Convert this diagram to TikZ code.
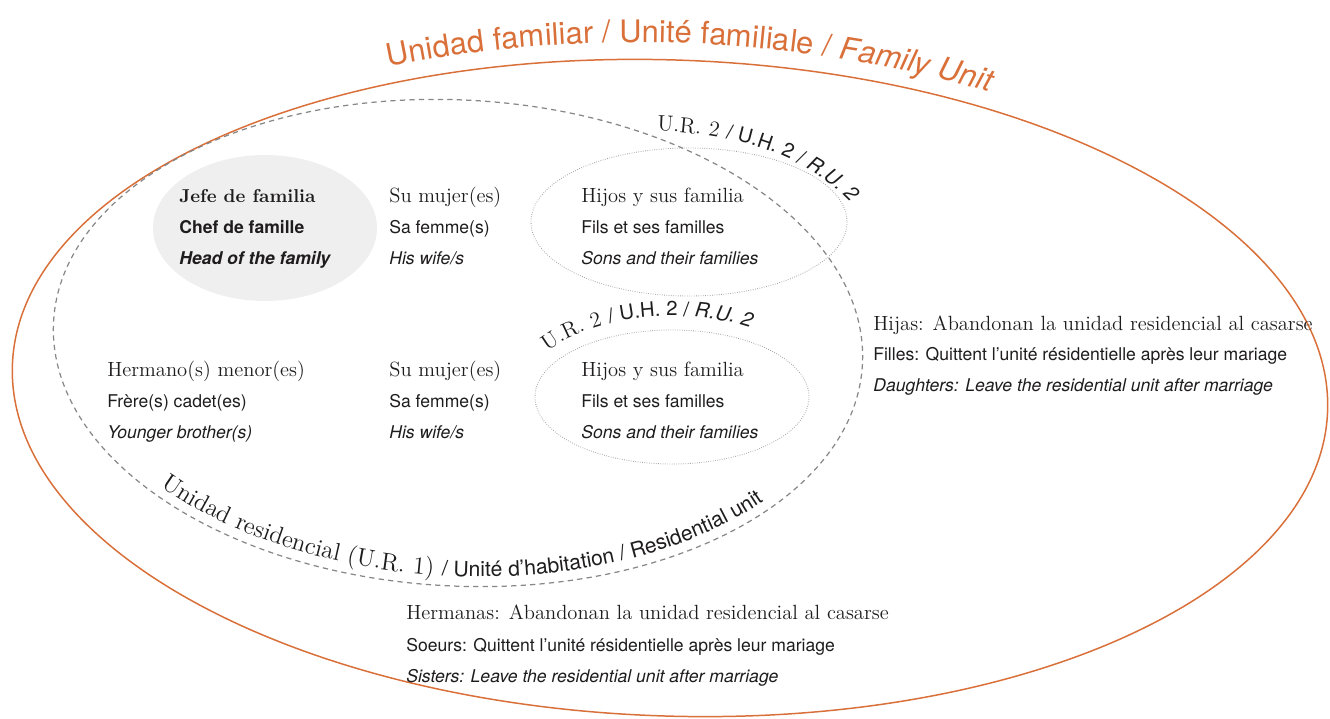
\documentclass[tikz,border=0pt]{standalone}
\usepackage{fontspec}
\setsansfont{TeX Gyre Heros}
\usepackage{xcolor}
\usetikzlibrary{decorations.text}

\definecolor{famorange}{RGB}{217,112,58}
\definecolor{ink}{RGB}{30,28,28}
\definecolor{headfill}{RGB}{239,239,239}
\definecolor{dashgray}{RGB}{135,135,135}
\definecolor{dotgray}{RGB}{160,160,160}

% fonts for the curved labels
\newcommand{\titlefont}{\sffamily\fontsize{17.6}{20}\selectfont}
\newcommand{\titlefontit}{\sffamily\itshape\fontsize{17.6}{20}\selectfont}
\newcommand{\arcES}{\rmfamily\fontsize{12.5}{15}\selectfont}
\newcommand{\arcFR}{\sffamily\fontsize{11.5}{14}\selectfont}
\newcommand{\arcEN}{\sffamily\itshape\fontsize{11.5}{14}\selectfont}
\newcommand{\botES}{\rmfamily\fontsize{14}{16}\selectfont}
\newcommand{\botFR}{\sffamily\fontsize{12}{14}\selectfont}

\begin{document}
\begin{tikzpicture}[x=0.02cm,y=-0.02cm,line join=round,
  lbl/.style={anchor=base west,inner sep=0pt,text=ink},
  es/.style={lbl,font=\rmfamily\fontsize{11.7}{14}\selectfont},
  fr/.style={lbl,font=\sffamily\fontsize{10}{12}\selectfont},
  en/.style={lbl,font=\sffamily\itshape\fontsize{10}{12}\selectfont},
  resline/.style={dashgray,line width=0.7pt,dash pattern=on 3pt off 2.4pt},
  subline/.style={dotgray,line width=0.5pt,dash pattern=on 0.4pt off 0.9pt}]
  \useasboundingbox (0,0) rectangle (1330,719);

  % ---- head of the family (grey blob) -------------------------------------
  \fill[headfill] (265,228) ellipse[x radius=112,y radius=73];

  % ---- family unit (orange) -----------------------------------------------
  \begin{scope}[shift={(670,388)},rotate=-2]
    \draw[famorange,line width=0.85pt] (0,0) ellipse[x radius=658,y radius=328];
    \path[decorate,decoration={text along path,text align=center,text color=famorange,
      text={|\titlefont|Unidad familiar / Unité familiale / |\titlefontit|Family Unit}}]
      (217:676 and 345) arc[start angle=217,end angle=325,x radius=676,y radius=345];
  \end{scope}

  % ---- residential unit (dashed) ------------------------------------------
  \begin{scope}[shift={(458,343)},rotate=-3]
    \draw[resline] (0,0) ellipse[x radius=405,y radius=243];
    % label inside, bottom
    \path[decorate,decoration={text along path,text align=center,text color=ink,
      text={|\botES|Unidad residencial (U.R. 1) |\botFR|/ Unité d’habitation / Residential unit}}]
      (150:395 and 233) arc[start angle=150,end angle=24,x radius=395,y radius=233];
  \end{scope}
  % label outside, upper right
  \path[decorate,decoration={text along path,text align=left,text color=ink,
    text={|\arcES|U.R. 2 |\arcFR|/ U.H. 2 / |\arcEN|R.U. 2}}]
    (657,131) .. controls (750,134) and (832,162) .. (878,238);

  % ---- sub-units of the sons (dotted) -------------------------------------
  \draw[subline] (689,222) ellipse[x radius=158,y radius=74];
  \begin{scope}[shift={(672,397)}]
    \draw[subline] (0,0) ellipse[x radius=137,y radius=67];
    \path[decorate,decoration={text along path,text align=center,text color=ink,
      text={|\arcES|U.R. 2 |\arcFR|/ U.H. 2 / |\arcEN|R.U. 2}}]
      (184:151 and 81) arc[start angle=184,end angle=324,x radius=151,y radius=81];
  \end{scope}

  % ---- first row: head, wives, sons ---------------------------------------
  \node[es,font=\rmfamily\bfseries\fontsize{10.6}{13}\selectfont] (jefe) at (179,203) {Jefe de familia};
  \node[fr,font=\sffamily\bfseries\fontsize{10}{12}\selectfont] (chef) at (179,234) {Chef de famille};
  \node[en,font=\sffamily\bfseries\itshape\fontsize{10}{12}\selectfont] (head) at (179,265) {Head of the family};

  \node[es] (mujer1) at (389,203) {Su mujer(es)};
  \node[fr] (femme1) at (389,234) {Sa femme(s)};
  \node[en] (wife1)  at (389,265) {His wife/s};

  \node[es] (hijos1) at (581,203) {Hijos y sus familia};
  \node[fr] (fils1)  at (581,234) {Fils et ses familles};
  \node[en] (sons1)  at (581,265) {Sons and their families};

  % ---- second row: younger brothers ---------------------------------------
  \node[es] (hermano) at (107,377) {Hermano(s) menor(es)};
  \node[fr] (frere)   at (107,408) {Frère(s) cadet(es)};
  \node[en] (brother) at (107,439) {Younger brother(s)};

  \node[es] (mujer2) at (389,377) {Su mujer(es)};
  \node[fr] (femme2) at (389,408) {Sa femme(s)};
  \node[en] (wife2)  at (389,439) {His wife/s};

  \node[es] (hijos2) at (581,377) {Hijos y sus familia};
  \node[fr] (fils2)  at (581,408) {Fils et ses familles};
  \node[en] (sons2)  at (581,439) {Sons and their families};

  % ---- daughters and sisters leave ----------------------------------------
  \node[es] (hijas)     at (873,331) {Hijas: Abandonan la unidad residencial al casarse};
  \node[fr] (filles)    at (873,361) {Filles: Quittent l’unité résidentielle après leur mariage};
  \node[en] (daughters) at (873,392) {Daughters: Leave the residential unit after marriage};

  \node[es] (hermanas) at (406,620) {Hermanas: Abandonan la unidad residencial al casarse};
  \node[fr] (soeurs)   at (406,652) {Soeurs: Quittent l’unité résidentielle après leur mariage};
  \node[en] (sisters)  at (406,683) {Sisters: Leave the residential unit after marriage};
\end{tikzpicture}
\end{document}
